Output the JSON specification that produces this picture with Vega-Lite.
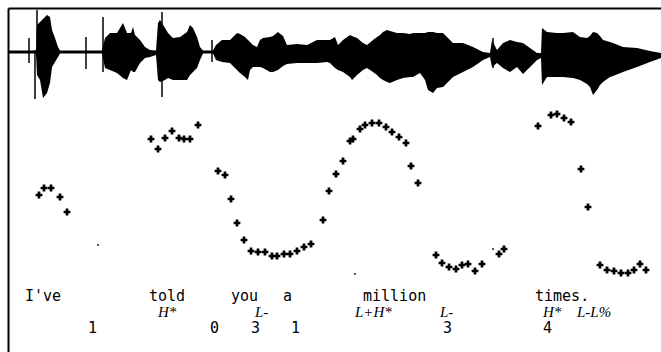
{
  "$schema": "https://vega.github.io/schema/vega-lite/v6.json",
  "width": 661,
  "height": 352,
  "autosize": {"type": "fit", "contains": "padding"},
  "padding": {"left": 8, "top": 8, "right": 0, "bottom": 0},
  "background": "white",
  "config": {"view": {"stroke": null}},
  "datasets": {
    "wave": [
      {"t":0,"hi":1.5,"lo":-1.5},{"t":28,"hi":1.5,"lo":-1.5},{"t":29,"hi":27,"lo":-23},{"t":32,"hi":30,"lo":-28},{"t":35,"hi":33,"lo":-46},{"t":39,"hi":37,"lo":-41},{"t":42,"hi":35,"lo":-31},{"t":44,"hi":22,"lo":-15},{"t":47,"hi":14,"lo":-10},{"t":50,"hi":5,"lo":-5},{"t":52,"hi":1.5,"lo":-1.5},
      {"t":94,"hi":1.5,"lo":-1.5},{"t":97,"hi":14,"lo":-16},{"t":102,"hi":19,"lo":-18},{"t":109,"hi":19,"lo":-21},{"t":115,"hi":29,"lo":-26},{"t":119,"hi":19,"lo":-28},{"t":123,"hi":19,"lo":-18},{"t":125,"hi":25,"lo":-20},{"t":127,"hi":17,"lo":-20},{"t":132,"hi":12,"lo":-11},{"t":137,"hi":5,"lo":-6},{"t":142,"hi":2,"lo":-5},{"t":148,"hi":1.5,"lo":-3},
      {"t":150,"hi":29,"lo":-28},{"t":152,"hi":32,"lo":-30},{"t":157,"hi":24,"lo":-28},{"t":160,"hi":19,"lo":-26},{"t":165,"hi":14,"lo":-28},{"t":172,"hi":15,"lo":-28},{"t":179,"hi":20,"lo":-28},{"t":182,"hi":27,"lo":-23},{"t":185,"hi":24,"lo":-20},{"t":189,"hi":15,"lo":-16},{"t":192,"hi":5,"lo":-8},{"t":195,"hi":1.5,"lo":-1.5},
      {"t":205,"hi":1.5,"lo":-1.5},{"t":208,"hi":7,"lo":-8},{"t":214,"hi":12,"lo":-10},{"t":222,"hi":12,"lo":-11},{"t":229,"hi":19,"lo":-18},{"t":232,"hi":18,"lo":-21},{"t":237,"hi":15,"lo":-25},{"t":240,"hi":12,"lo":-28},{"t":242,"hi":10,"lo":-18},{"t":245,"hi":7,"lo":-15},{"t":249,"hi":5,"lo":-15},{"t":252,"hi":12,"lo":-15},{"t":255,"hi":14,"lo":-16},{"t":262,"hi":15,"lo":-20},{"t":265,"hi":16,"lo":-20},{"t":270,"hi":20,"lo":-18},{"t":275,"hi":16,"lo":-14},{"t":279,"hi":7,"lo":-12},{"t":289,"hi":8,"lo":-11},{"t":299,"hi":7,"lo":-11},{"t":309,"hi":12,"lo":-11},{"t":319,"hi":12,"lo":-10},
      {"t":322,"hi":12,"lo":-11},{"t":327,"hi":15,"lo":-16},{"t":330,"hi":7,"lo":-18},{"t":335,"hi":12,"lo":-20},{"t":342,"hi":17,"lo":-25},{"t":344,"hi":16,"lo":-28},{"t":349,"hi":14,"lo":-23},{"t":355,"hi":9,"lo":-18},{"t":359,"hi":7,"lo":-16},{"t":365,"hi":12,"lo":-20},{"t":369,"hi":15,"lo":-23},{"t":372,"hi":17,"lo":-26},{"t":375,"hi":20,"lo":-28},{"t":379,"hi":22,"lo":-30},{"t":382,"hi":21,"lo":-31},{"t":389,"hi":19,"lo":-28},{"t":395,"hi":19,"lo":-26},{"t":402,"hi":18,"lo":-25},{"t":405,"hi":19,"lo":-25},{"t":412,"hi":19,"lo":-21},{"t":417,"hi":19,"lo":-28},{"t":420,"hi":20,"lo":-38},{"t":425,"hi":20,"lo":-41},{"t":429,"hi":19,"lo":-36},{"t":435,"hi":19,"lo":-35},{"t":440,"hi":14,"lo":-30},{"t":445,"hi":9,"lo":-25},{"t":455,"hi":9,"lo":-20},{"t":465,"hi":5,"lo":-15},{"t":475,"hi":0,"lo":-8},{"t":482,"hi":-1,"lo":-5},
      {"t":484,"hi":12,"lo":-15},{"t":489,"hi":2,"lo":-11},{"t":495,"hi":9,"lo":-16},{"t":502,"hi":12,"lo":-20},{"t":509,"hi":10,"lo":-15},{"t":515,"hi":9,"lo":-22},{"t":522,"hi":4,"lo":-15},{"t":529,"hi":-1,"lo":-8},{"t":533,"hi":-1,"lo":-6},
      {"t":534,"hi":24,"lo":-33},{"t":539,"hi":20,"lo":-25},{"t":549,"hi":19,"lo":-25},{"t":555,"hi":19,"lo":-25},{"t":565,"hi":20,"lo":-26},{"t":572,"hi":15,"lo":-28},{"t":579,"hi":14,"lo":-32},{"t":582,"hi":16,"lo":-35},{"t":585,"hi":20,"lo":-43},{"t":589,"hi":19,"lo":-38},{"t":592,"hi":16,"lo":-33},{"t":595,"hi":12,"lo":-30},{"t":602,"hi":10,"lo":-25},{"t":605,"hi":9,"lo":-24},{"t":615,"hi":5,"lo":-20},{"t":629,"hi":4,"lo":-15},{"t":642,"hi":1,"lo":-10},{"t":653,"hi":-1,"lo":-6}
    ],
    "spikes": [
      {"t":21,"hi":14,"lo":-11},{"t":27,"hi":2,"lo":-47},{"t":29,"hi":42,"lo":-5},{"t":78,"hi":15,"lo":-17},{"t":95,"hi":35,"lo":-20},{"t":154,"hi":40,"lo":-45},{"t":204,"hi":12,"lo":-10},{"t":485,"hi":14,"lo":-16}
    ],
    "pitch": [
      {"t":31,"f0":205},{"t":36,"f0":212},{"t":43,"f0":212},{"t":52,"f0":203},{"t":59,"f0":188},
      {"t":143,"f0":261},{"t":150,"f0":251},{"t":157,"f0":262},{"t":164,"f0":269},{"t":171,"f0":262},{"t":176,"f0":261},{"t":182,"f0":261},{"t":190,"f0":275},
      {"t":210,"f0":229},{"t":217,"f0":225},{"t":223,"f0":201},{"t":229,"f0":177},{"t":236,"f0":160},{"t":243,"f0":149},{"t":250,"f0":148},{"t":257,"f0":148},{"t":264,"f0":144},{"t":269,"f0":144},{"t":276,"f0":146},{"t":282,"f0":146},{"t":289,"f0":149},{"t":296,"f0":153},{"t":303,"f0":156},{"t":315,"f0":180},{"t":321,"f0":209},
      {"t":328,"f0":226},{"t":335,"f0":239},{"t":342,"f0":259},{"t":345,"f0":261},{"t":352,"f0":271},{"t":357,"f0":275},{"t":364,"f0":277},{"t":371,"f0":277},{"t":378,"f0":273},{"t":384,"f0":268},{"t":391,"f0":263},{"t":398,"f0":257},{"t":403,"f0":234},{"t":410,"f0":217},
      {"t":428,"f0":145},{"t":434,"f0":137},{"t":441,"f0":133},{"t":448,"f0":131},{"t":454,"f0":135},{"t":460,"f0":136},{"t":467,"f0":129},{"t":474,"f0":136},{"t":491,"f0":146},{"t":496,"f0":151},
      {"t":530,"f0":274},{"t":543,"f0":285},{"t":549,"f0":286},{"t":556,"f0":282},{"t":563,"f0":278},{"t":573,"f0":231},{"t":580,"f0":193},
      {"t":592,"f0":135},{"t":599,"f0":130},{"t":606,"f0":129},{"t":613,"f0":127},{"t":620,"f0":127},{"t":626,"f0":130},{"t":632,"f0":136},{"t":638,"f0":130}
    ],
    "dots": [
      {"t":90,"f0":155},{"t":347,"f0":126},{"t":485,"f0":151}
    ],
    "labels": [
      {"t":17,"row":0,"tier":"word","text":"I've"},{"t":141,"row":0,"tier":"word","text":"told"},{"t":223,"row":0,"tier":"word","text":"you"},{"t":275,"row":0,"tier":"word","text":"a"},{"t":355,"row":0,"tier":"word","text":"million"},{"t":527,"row":0,"tier":"word","text":"times."},
      {"t":150,"row":1,"tier":"tone","text":"H*"},{"t":247,"row":1,"tier":"tone","text":"L-"},{"t":347,"row":1,"tier":"tone","text":"L+H*"},{"t":432,"row":1,"tier":"tone","text":"L-"},{"t":535,"row":1,"tier":"tone","text":"H*"},{"t":569,"row":1,"tier":"tone","text":"L-L%"},
      {"t":80,"row":2,"tier":"break","text":"1"},{"t":202,"row":2,"tier":"break","text":"0"},{"t":243,"row":2,"tier":"break","text":"3"},{"t":283,"row":2,"tier":"break","text":"1"},{"t":435,"row":2,"tier":"break","text":"3"},{"t":535,"row":2,"tier":"break","text":"4"}
    ]
  },
  "resolve": {"scale": {"y": "independent"}},
  "layer": [
    {
      "data": {"name": "wave"},
      "mark": {"type": "area", "color": "black", "interpolate": "linear"},
      "encoding": {
        "x": {"field": "t", "type": "quantitative", "scale": {"domain": [0, 653], "nice": false},
              "axis": {"orient": "top", "labels": false, "ticks": false, "grid": false, "title": null, "domainColor": "black", "domainWidth": 2}},
        "y": {"field": "hi", "type": "quantitative", "scale": {"domain": [-300, 44], "nice": false},
              "axis": {"labels": false, "ticks": false, "grid": false, "title": null, "domainColor": "black", "domainWidth": 2}},
        "y2": {"field": "lo"}
      }
    },
    {
      "data": {"name": "spikes"},
      "mark": {"type": "rule", "color": "black", "strokeWidth": 1.5},
      "encoding": {
        "x": {"field": "t", "type": "quantitative"},
        "y": {"field": "hi", "type": "quantitative", "scale": {"domain": [-300, 44], "nice": false}, "axis": null},
        "y2": {"field": "lo"}
      }
    },
    {
      "data": {"name": "pitch"},
      "mark": {"type": "point", "shape": "cross", "filled": true, "color": "black", "size": 46, "opacity": 1},
      "encoding": {
        "x": {"field": "t", "type": "quantitative"},
        "y": {"field": "f0", "type": "quantitative", "scale": {"domain": [48, 392], "nice": false}, "axis": null}
      }
    },
    {
      "data": {"name": "dots"},
      "mark": {"type": "point", "shape": "square", "filled": true, "color": "black", "size": 3, "opacity": 1},
      "encoding": {
        "x": {"field": "t", "type": "quantitative"},
        "y": {"field": "f0", "type": "quantitative", "scale": {"domain": [48, 392], "nice": false}, "axis": null}
      }
    },
    {
      "data": {"name": "labels"},
      "transform": [{"filter": "datum.tier !== 'tone'"}],
      "mark": {"type": "text", "align": "left", "baseline": "middle", "font": "DejaVu Sans Mono", "fontSize": 15, "color": "black"},
      "encoding": {
        "x": {"field": "t", "type": "quantitative"},
        "y": {"field": "row", "type": "quantitative", "scale": {"domain": [-18, 3.5], "reverse": true, "nice": false, "zero": false}, "axis": null},
        "text": {"field": "text"}
      }
    },
    {
      "data": {"name": "labels"},
      "transform": [{"filter": "datum.tier === 'tone'"}],
      "mark": {"type": "text", "align": "left", "baseline": "middle", "font": "Liberation Serif", "fontStyle": "italic", "fontSize": 15, "color": "black"},
      "encoding": {
        "x": {"field": "t", "type": "quantitative"},
        "y": {"field": "row", "type": "quantitative", "scale": {"domain": [-18, 3.5], "reverse": true, "nice": false, "zero": false}, "axis": null},
        "text": {"field": "text"}
      }
    }
  ]
}
